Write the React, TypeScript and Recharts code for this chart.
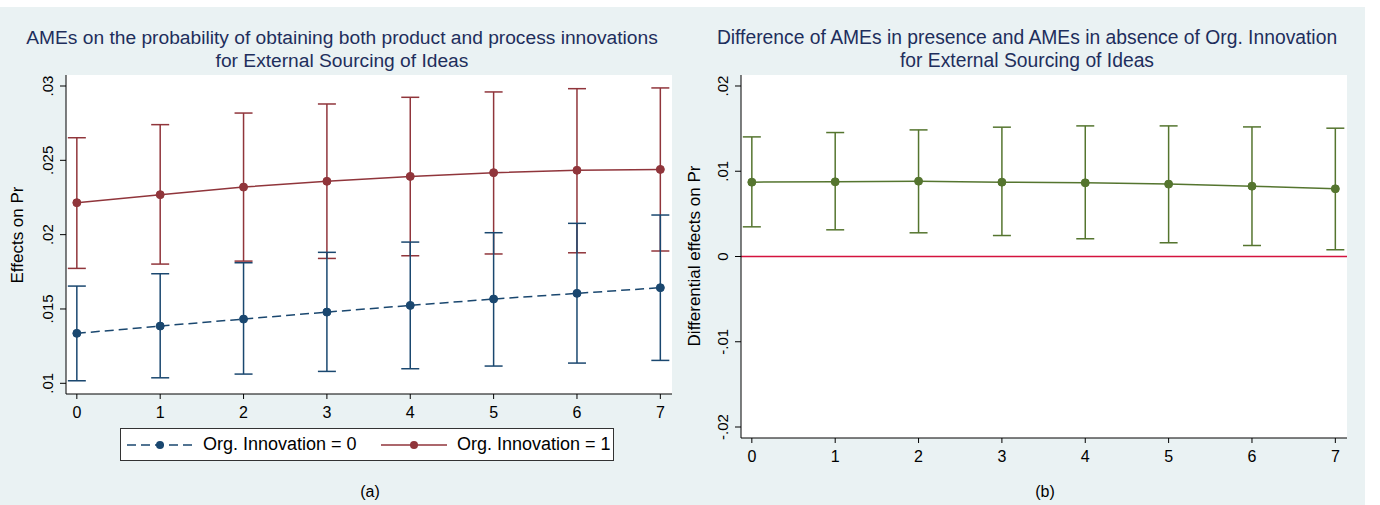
import React from 'react';
import {
  ComposedChart,
  Line,
  ErrorBar,
  XAxis,
  YAxis,
  CartesianGrid,
  ReferenceLine,
} from 'recharts';

// x categories (0..7)
const categories = [0, 1, 2, 3, 4, 5, 6, 7];

// panel (a): Org. Innovation = 0
const org0Mean = [0.01336, 0.01385, 0.01432, 0.01479, 0.01524, 0.01567, 0.01605, 0.01643];
const org0Low = [0.01017, 0.01037, 0.01062, 0.0108, 0.01098, 0.01116, 0.01136, 0.01154];
const org0High = [0.01654, 0.01737, 0.01811, 0.01881, 0.0195, 0.02013, 0.02076, 0.02132];

// panel (a): Org. Innovation = 1
const org1Mean = [0.02215, 0.02269, 0.0232, 0.02359, 0.02392, 0.02417, 0.02433, 0.02439];
const org1Low = [0.01773, 0.01802, 0.01822, 0.0184, 0.01858, 0.0187, 0.01878, 0.0189];
const org1High = [0.02652, 0.0274, 0.02818, 0.02879, 0.02924, 0.0296, 0.02982, 0.02987];

// panel (b): difference
const diffMean = [0.00872, 0.00876, 0.00884, 0.00872, 0.00864, 0.00849, 0.00825, 0.00794];
const diffLow = [0.00348, 0.00313, 0.00278, 0.00246, 0.00208, 0.00161, 0.00129, 0.00079];
const diffHigh = [0.01403, 0.01454, 0.01485, 0.01517, 0.01532, 0.01532, 0.0152, 0.01505];

const leftTicks = [0.01, 0.015, 0.02, 0.025, 0.03];
const rightTicks = [-0.02, -0.01, 0, 0.01, 0.02];

const BLUE = '#1a476f';
const RED = '#90353b';
const GREEN = '#55752f';
const TITLE = '#1e2e5c';
const BG = '#eaf2f3';
const FONT = '"Liberation Sans", Arial, Helvetica, sans-serif';

const leftData = categories.map((c, i) => ({
  x: c,
  m0: org0Mean[i],
  e0: [org0Mean[i] - org0Low[i], org0High[i] - org0Mean[i]],
  m1: org1Mean[i],
  e1: [org1Mean[i] - org1Low[i], org1High[i] - org1Mean[i]],
}));

const rightData = categories.map((c, i) => ({
  x: c,
  d: diffMean[i],
  ed: [diffMean[i] - diffLow[i], diffHigh[i] - diffMean[i]],
}));

function fmt(v: number) {
  const s = String(Number(v.toFixed(3)));
  return s.replace(/^0\./, '.').replace(/^-0\./, '-.');
}

const RotTick = (props: any) => {
  const { x, y, payload } = props;
  return (
    <text
      x={x}
      y={y}
      transform={`rotate(-90 ${x} ${y})`}
      textAnchor="middle"
      fontSize={15}
      fontFamily={FONT}
      fill="#000"
    >
      {fmt(payload.value)}
    </text>
  );
};

const XTick = (props: any) => {
  const { x, y, payload } = props;
  return (
    <text x={x} y={y + 19} textAnchor="middle" fontSize={16} fontFamily={FONT} fill="#000">
      {payload.value}
    </text>
  );
};

const textStyle: React.CSSProperties = {
  position: 'absolute',
  fontFamily: FONT,
  whiteSpace: 'nowrap',
};

function Title({ cx, size, lines }: { cx: number; size: number; lines: string[] }) {
  return (
    <>
      {lines.map((t, i) => (
        <div
          key={i}
          style={{
            ...textStyle,
            left: cx - 400,
            width: 800,
            textAlign: 'center',
            top: 27 + i * 23,
            fontSize: size,
            lineHeight: '22px',
            color: TITLE,
          }}
        >
          {t}
        </div>
      ))}
    </>
  );
}

function VLabel({ cx, cy, text }: { cx: number; cy: number; text: string }) {
  return (
    <div
      style={{
        ...textStyle,
        left: cx - 200,
        top: cy - 11,
        width: 400,
        height: 22,
        lineHeight: '22px',
        textAlign: 'center',
        fontSize: 17,
        color: '#000',
        transform: 'rotate(-90deg)',
      }}
    >
      {text}
    </div>
  );
}

function LegendItem({ left, color, dashed, label }: { left: number; color: string; dashed: boolean; label: string }) {
  return (
    <div style={{ position: 'absolute', left, top: 0, height: 31, display: 'flex', alignItems: 'center' }}>
      <svg width={66} height={16}>
        <line
          x1={0}
          y1={8}
          x2={66}
          y2={8}
          stroke={color}
          strokeWidth={1.5}
          strokeDasharray={dashed ? '9 5' : undefined}
        />
        <circle cx={33} cy={8} r={4} fill={color} />
      </svg>
      <span style={{ marginLeft: 10, fontSize: 18, color: '#000', whiteSpace: 'nowrap' }}>{label}</span>
    </div>
  );
}

export default function App() {
  return (
    <div style={{ position: 'absolute', left: 0, top: 0, width: 1380, height: 505, background: '#fff' }}>
      <div style={{ position: 'absolute', left: 0, top: 7, width: 1365, height: 498, background: BG }} />

      <Title cx={342} size={19.2} lines={['AMEs on the probability of obtaining both product and process innovations', 'for External Sourcing of Ideas']} />
      <Title cx={1027} size={19.3} lines={['Difference of AMEs in presence and AMEs in absence of Org. Innovation', 'for External Sourcing of Ideas']} />

      <VLabel cx={18} cy={235} text="Effects on Pr" />
      <VLabel cx={695} cy={256} text="Differential effects on Pr" />

      {/* panel (a) */}
      <div style={{ position: 'absolute', left: 0, top: 0 }}>
        <ComposedChart
          width={680}
          height={430}
          data={leftData}
          margin={{ top: 75, right: 8, bottom: 6, left: 36 }}
        >
          <rect x={66} y={75} width={606} height={319} fill="#fff" />
          <CartesianGrid vertical={false} stroke={BG} strokeWidth={1.5} />
          <XAxis
            dataKey="x"
            type="number"
            domain={[-0.13, 7.14]}
            ticks={categories}
            height={30}
            tickSize={5}
            tickMargin={0}
            stroke="#000"
            tick={<XTick />}
            allowDataOverflow
          />
          <YAxis
            type="number"
            domain={[0.00928, 0.03074]}
            ticks={leftTicks}
            width={30}
            tickSize={6}
            tickMargin={7}
            stroke="#000"
            tick={<RotTick />}
            allowDataOverflow
          />
          <Line
            dataKey="m1"
            stroke={RED}
            strokeWidth={1.5}
            dot={{ r: 4, fill: RED, stroke: RED, strokeWidth: 1 }}
            isAnimationActive={false}
          >
            <ErrorBar dataKey="e1" width={9} stroke={RED} strokeWidth={1.5} direction="y" />
          </Line>
          <Line
            dataKey="m0"
            stroke={BLUE}
            strokeWidth={1.5}
            strokeDasharray="9 5"
            dot={{ r: 4, fill: BLUE, stroke: BLUE, strokeWidth: 1, strokeDasharray: '' }}
            isAnimationActive={false}
          >
            <ErrorBar dataKey="e0" width={9} stroke={BLUE} strokeWidth={1.5} direction="y" />
          </Line>
        </ComposedChart>
      </div>

      {/* legend (a) */}
      <div
        style={{
          position: 'absolute',
          left: 120,
          top: 428,
          width: 494,
          height: 33,
          boxSizing: 'border-box',
          border: '1px solid #333',
          background: '#fff',
          fontFamily: FONT,
        }}
      >
        <LegendItem left={6} color={BLUE} dashed label="Org. Innovation = 0" />
        <LegendItem left={260} color={RED} dashed={false} label="Org. Innovation = 1" />
      </div>

      {/* panel (b) */}
      <div style={{ position: 'absolute', left: 676, top: 0 }}>
        <ComposedChart
          width={680}
          height={470}
          data={rightData}
          margin={{ top: 75, right: 9, bottom: 2, left: 35 }}
        >
          <rect x={65} y={75} width={606} height={363} fill="#fff" />
          <CartesianGrid vertical={false} stroke={BG} strokeWidth={1.5} />
          <XAxis
            dataKey="x"
            type="number"
            domain={[-0.13, 7.14]}
            ticks={categories}
            height={30}
            tickSize={5}
            tickMargin={0}
            stroke="#000"
            tick={<XTick />}
            allowDataOverflow
          />
          <YAxis
            type="number"
            domain={[-0.02129, 0.02129]}
            ticks={rightTicks}
            width={30}
            tickSize={6}
            tickMargin={7}
            stroke="#000"
            tick={<RotTick />}
            allowDataOverflow
          />
          <ReferenceLine y={0} stroke="#d4133f" strokeWidth={1.5} />
          <Line
            dataKey="d"
            stroke={GREEN}
            strokeWidth={1.5}
            dot={{ r: 4, fill: GREEN, stroke: GREEN, strokeWidth: 1 }}
            isAnimationActive={false}
          >
            <ErrorBar dataKey="ed" width={9} stroke={GREEN} strokeWidth={1.5} direction="y" />
          </Line>
        </ComposedChart>
      </div>

      <div style={{ ...textStyle, left: 340, width: 60, textAlign: 'center', top: 483, fontSize: 16, color: '#000' }}>(a)</div>
      <div style={{ ...textStyle, left: 1015, width: 60, textAlign: 'center', top: 483, fontSize: 16, color: '#000' }}>(b)</div>
    </div>
  );
}
